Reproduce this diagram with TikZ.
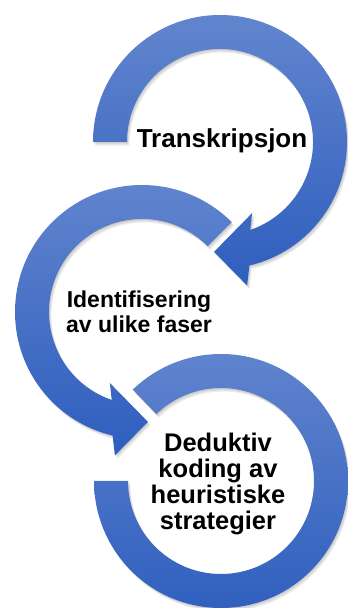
\documentclass[tikz,border=0pt]{standalone}
\usepackage{fontspec}
\setmainfont{Liberation Sans}
\definecolor{arcTop}{RGB}{98,133,206}
\definecolor{arcBot}{RGB}{46,94,190}
\newcommand\ringOne{(180:127) arc[start angle=180,end angle=-76.6,radius=127] -- (-79.3:146) -- (-93.1:110) -- (-65.7:78) -- (-71:93) arc[start angle=-71,end angle=180,radius=93] -- cycle}
\newcommand\ringTwo{(45:127) arc[start angle=45,end angle=256.6,radius=127] -- (259.3:146) -- (273.1:110) -- (245.7:78) -- (251:93) arc[start angle=251,end angle=45,radius=93] -- cycle}
\newcommand\ringThree{(134:127) arc[start angle=134,end angle=-180,radius=127] -- (180:93) arc[start angle=-180,end angle=134,radius=93] -- cycle}
\tikzset{
  ringshade/.style={top color=arcTop,bottom color=arcBot,draw=none},
  ringshadow/.style={fill=black,opacity=0.07,draw=none},
  lbl/.style={font=\bfseries,text=black,align=center,inner sep=0pt}
}
\begin{document}
\begin{tikzpicture}[x=1pt,y=1pt]
\useasboundingbox (0,0) rectangle (348,608);
% ring 1
\begin{scope}[shift={(220,466)}]
  \foreach \d in {1,2,3}{\fill[ringshadow,shift={(0.8*\d,-1.2*\d)}] \ringOne;}
  \shade[ringshade] \ringOne;
\end{scope}
% ring 2
\begin{scope}[shift={(142,296)}]
  \foreach \d in {1,2,3}{\fill[ringshadow,shift={(0.8*\d,-1.2*\d)}] \ringTwo;}
  \shade[ringshade] \ringTwo;
\end{scope}
% ring 3
\begin{scope}[shift={(221,127)}]
  \foreach \d in {1,2,3}{\fill[ringshadow,shift={(0.8*\d,-1.2*\d)}] \ringThree;}
  \shade[ringshade] \ringThree;
\end{scope}
\node[lbl,anchor=base,font=\bfseries\fontsize{26}{26}\selectfont] (t1) at (222,460) {Transkripsjon};
\node[lbl,anchor=base,font=\bfseries\fontsize{23}{25}\selectfont] (t2) at (139,275) {Identifisering\\av ulike faser};
\node[lbl,anchor=base,font=\bfseries\fontsize{25.5}{26}\selectfont] (t3) at (218,78) {Deduktiv\\koding av\\heuristiske\\strategier};
\end{tikzpicture}
\end{document}
